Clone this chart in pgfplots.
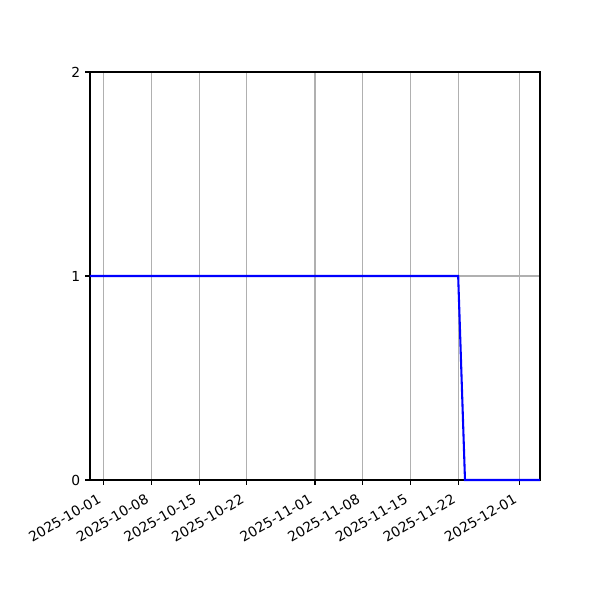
\documentclass[border=0pt]{standalone}
\usepackage{fontspec}
\setmainfont{DejaVu Sans}
\usepackage{pgfplots}
\pgfplotsset{compat=1.18}
\definecolor{gridgray}{RGB}{176,176,176}
\begin{document}
\begin{tikzpicture}
\path[use as bounding box] (-0.9in,-1.2in) rectangle (5.1in,4.8in);
\begin{axis}[
  at={(0,0)}, anchor=south west,
  scale only axis, width=4.5in, height=4.08in,
  xmin=-2, xmax=64, ymin=0, ymax=2,
  xtick={0,7,14,21,31,38,45,52,61},
  xticklabels={2025-10-01,2025-10-08,2025-10-15,2025-10-22,2025-11-01,2025-11-08,2025-11-15,2025-11-22,2025-12-01},
  ytick={0,1,2},
  x tick label style={xshift=-4.5pt, yshift=-4.5pt, rotate=30, anchor=north east, font=\fontsize{10}{12}\selectfont, inner sep=1pt},
  y tick label style={font=\fontsize{10}{12}\selectfont},
  /pgf/number format/assume math mode=true,
  tick align=outside, major tick length=3.5pt,
  tick style={black, line width=0.8pt},
  xtick pos=bottom, ytick pos=left,
  axis line style={line width=0.8pt},
  grid=major, major grid style={gridgray, line width=0.8pt},
  clip=false,
]
\addplot[blue, line width=1.5pt] coordinates {(-2,1) (52,1) (53,0) (64,0)};
\end{axis}
\end{tikzpicture}
\end{document}
